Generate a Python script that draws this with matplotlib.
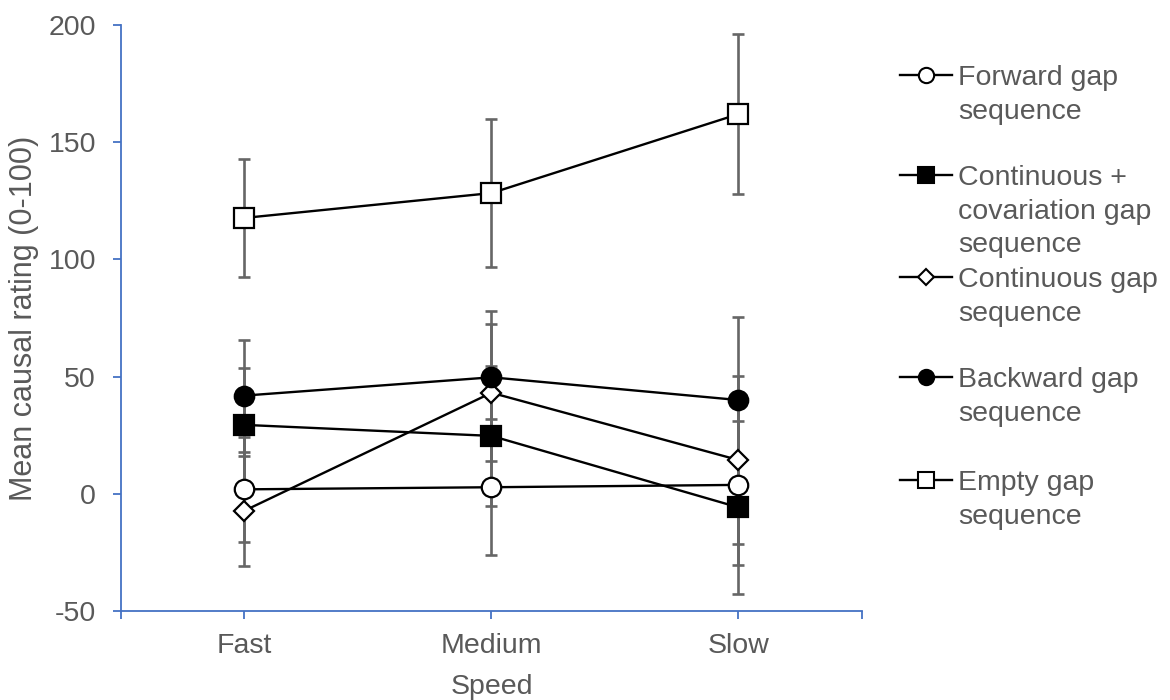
import matplotlib
matplotlib.use("Agg")
import matplotlib.pyplot as plt
from matplotlib.lines import Line2D

plt.rcParams['font.family'] = ['Liberation Sans', 'DejaVu Sans']
plt.rcParams['axes.unicode_minus'] = False

speeds = ["Fast", "Medium", "Slow"]
series_names = [["Forward gap", "sequence"],
                ["Continuous +", "covariation gap", "sequence"],
                ["Continuous gap", "sequence"],
                ["Backward gap", "sequence"],
                ["Empty gap", "sequence"]]
forward = [1.9, 2.8, 3.8]
forward_err = [22.4, 29.1, 34.3]
cont_cov = [29.4, 24.7, -5.8]
cont_cov_err = [24.3, 29.8, 36.9]
continuous = [-7.2, 43.1, 14.4]
continuous_err = [23.4, 29.2, 36.0]
backward = [41.9, 49.7, 40.0]
backward_err = [23.9, 28.4, 35.3]
empty = [117.7, 128.3, 162.0]
empty_err = [25.0, 31.6, 34.0]

values = [forward, cont_cov, continuous, backward, empty]
errors = [forward_err, cont_cov_err, continuous_err, backward_err, empty_err]
markers = ['o', 's', 'D', 'o', 's']
faces = ['white', 'black', 'white', 'black', 'white']
msizes = [14, 14, 10, 14, 14]
leg_msizes = [11, 11, 8, 11, 11]

TXT = '#595959'
AX = '#4472C4'
FS = 20.5

fig = plt.figure(figsize=(11.7, 7.0), dpi=100)
ax = fig.add_axes([121/1170, 1-611/700, (862-121)/1170, (611-25)/700])
x = list(range(len(speeds)))

for v, e in zip(values, errors):
    ax.errorbar(x, v, yerr=e, fmt='none', ecolor='#666666', elinewidth=1.9,
                capsize=4.3, capthick=1.9, zorder=1)
for v, m, f, s in zip(values, markers, faces, msizes):
    ax.plot(x, v, color='black', lw=1.7, marker=m, markersize=s,
            markerfacecolor=f, markeredgecolor='black', markeredgewidth=1.6, zorder=3)

ax.set_xlim(-0.5, 2.5)
ax.set_ylim(-50, 200)
ax.set_yticks([-50, 0, 50, 100, 150, 200])
ax.set_xticks([-0.5, 0, 1, 2, 2.5])
ax.set_xticklabels(['', 'Fast', 'Medium', 'Slow', ''])
for s in ['top', 'right']:
    ax.spines[s].set_visible(False)
for s in ['left', 'bottom']:
    ax.spines[s].set_color(AX)
    ax.spines[s].set_linewidth(1.3)
ax.tick_params(axis='both', colors=AX, length=6, width=1.3, labelsize=FS,
               labelcolor=TXT)
ax.tick_params(axis='y', pad=12)
ax.tick_params(axis='x', pad=10)
ax.set_xlabel('Speed', fontsize=FS, color=TXT, labelpad=11)
ax.set_ylabel('Mean causal rating (0-100)', fontsize=22, color=TXT, labelpad=7)

# legend drawn manually
leg_y = [75, 175, 277, 377, 480]
pitch = 33.5
em = FS * 100 / 72
for lines, m, f, s, yy in zip(series_names, markers, faces, leg_msizes, leg_y):
    yf = 1 - yy/700
    fig.add_artist(Line2D([900/1170, 952/1170], [yf, yf], color='black', lw=1.7,
                          transform=fig.transFigure))
    fig.add_artist(Line2D([926/1170], [yf], marker=m, markersize=s,
                          markerfacecolor=f, markeredgecolor='black',
                          markeredgewidth=1.5, transform=fig.transFigure))
    for k, line in enumerate(lines):
        base = yy + k * pitch + 0.36 * em
        fig.text(958/1170, 1 - base/700, line, fontsize=FS, color=TXT,
                 va='baseline', ha='left', transform=fig.transFigure)

fig.savefig('out.png', dpi=100)
